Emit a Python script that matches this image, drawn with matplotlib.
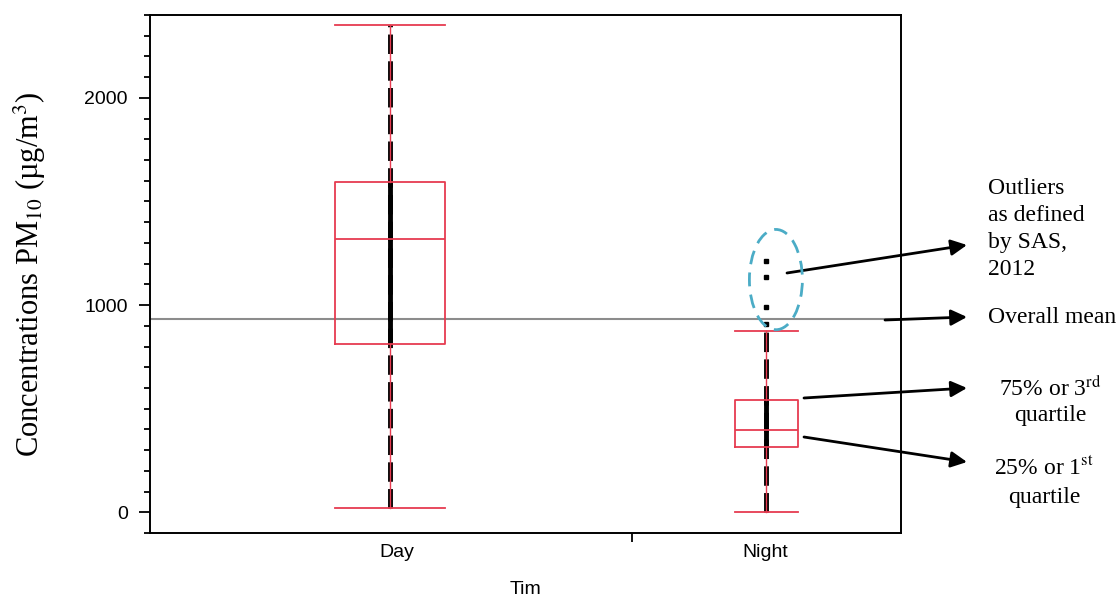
import matplotlib
matplotlib.use("Agg")
import matplotlib.pyplot as plt
from matplotlib.patches import Ellipse
from matplotlib.ticker import MultipleLocator, FixedLocator

plt.rcParams["mathtext.fontset"] = "stix"

# --------------------------
# 数据
# --------------------------
groups = ["Day", "Night"]
whis_lo = [19, 0]
q1 = [813, 315]
median = [1317, 397]
q3 = [1592, 542]
whis_hi = [2352, 876]
night_outliers = [908, 992, 1134, 1212]
overall_mean = 935

# 版式参数
tick_pos = [1, 2]
box_pos = [0.981, 2.004]
box_widths = [0.30, 0.17]
red = "#E63B50"
serif = ["Liberation Serif", "DejaVu Serif"]
sans = ["Liberation Sans", "DejaVu Sans"]

fig = plt.figure(figsize=(11.2, 5.96), dpi=100)
ax = fig.add_axes([150 / 1120, 63 / 596, 751 / 1120, 518 / 596])

# 原始数据点（黑色竖线）
for i in range(2):
    ax.vlines(box_pos[i], whis_lo[i], whis_hi[i], color="black", lw=3.5,
              linestyles=(0, (4, 1.5)), zorder=2)
    ax.vlines(box_pos[i], q1[i], q3[i], color="black", lw=3.5, zorder=2)
ax.plot([box_pos[1]] * len(night_outliers), night_outliers, ls="none",
        marker="s", ms=2.5, color="black", zorder=2)

# 箱线图
stats = []
for i, g in enumerate(groups):
    stats.append({"label": g, "whislo": whis_lo[i], "q1": q1[i], "med": median[i],
                  "q3": q3[i], "whishi": whis_hi[i], "fliers": []})
for i in range(2):
    ax.bxp([stats[i]], positions=[box_pos[i]], widths=box_widths[i],
           showfliers=False, capwidths=box_widths[i], manage_ticks=False,
           boxprops=dict(color=red, lw=1.3),
           medianprops=dict(color=red, lw=1.3),
           whiskerprops=dict(color=red, lw=1.0),
           capprops=dict(color=red, lw=1.3), zorder=3)

# 总体均值
ax.axhline(overall_mean, color="#8c8c8c", lw=1.5, zorder=1)

# 异常值圈
ax.add_patch(Ellipse((2.03, 1123), 0.144, 484, fill=False, ec="#4BACC6",
                     lw=2, ls=(0, (5, 3)), zorder=4))

ax.set_xlim(0.329, 2.37)
ax.set_ylim(-100, 2400)
ax.set_xticks(tick_pos)
ax.set_xticklabels(groups, fontsize=14, family=sans)
ax.xaxis.set_minor_locator(FixedLocator([1.639]))
ax.tick_params(axis="x", which="major", length=0, pad=8)
ax.tick_params(axis="x", which="minor", length=6.5, width=1.3, direction="out")
ax.yaxis.set_major_locator(FixedLocator([0, 1000, 2000]))
ax.yaxis.set_minor_locator(MultipleLocator(100))
ax.tick_params(axis="y", which="major", length=8, width=1.3, pad=8, labelsize=14)
ax.tick_params(axis="y", which="minor", length=4.5, width=1.3)
for lab in ax.get_yticklabels():
    lab.set_family(sans)
for s in ax.spines.values():
    s.set_linewidth(1.4)

ax.set_xlabel("Tim", fontsize=14, family=sans, labelpad=14)
ax.set_ylabel("Concentrations PM$_{10}$ (µg/m$^{3}$)", fontsize=22,
              family=serif, labelpad=26)

# 注释箭头（图像像素坐标，原点在左上角）
H = 596
arrows = [((787, 273), (967, 245)),
          ((885, 320), (967, 317)),
          ((804, 398), (967, 388)),
          ((804, 437), (967, 462))]
for (x0, y0), (x1, y1) in arrows:
    ax.annotate("", xy=(x1, H - y1), xytext=(x0, H - y0),
                xycoords="figure pixels", textcoords="figure pixels",
                annotation_clip=False,
                arrowprops=dict(arrowstyle="-|>", color="black", lw=2,
                                mutation_scale=24, shrinkA=0, shrinkB=0))

fig.text(988 / 1120, 1 - 178 / H, "Outliers\nas defined\nby SAS,\n2012",
         family=serif, fontsize=17, ha="left", va="top", linespacing=1.38)
fig.text(988 / 1120, 1 - 318 / H, "Overall mean", family=serif, fontsize=17,
         ha="left", va="center")
fig.text(1050 / 1120, 1 - 388 / H, "75% or 3$^{\\mathrm{rd}}$", family=serif,
         fontsize=17, ha="center", va="center")
fig.text(1050 / 1120, 1 - 416 / H, "quartile", family=serif, fontsize=17,
         ha="center", va="center")
fig.text(1044 / 1120, 1 - 468 / H, "25% or 1$^{\\mathrm{st}}$", family=serif,
         fontsize=17, ha="center", va="center")
fig.text(1044 / 1120, 1 - 497 / H, "quartile", family=serif, fontsize=17,
         ha="center", va="center")

fig.savefig("out.png", dpi=100)
